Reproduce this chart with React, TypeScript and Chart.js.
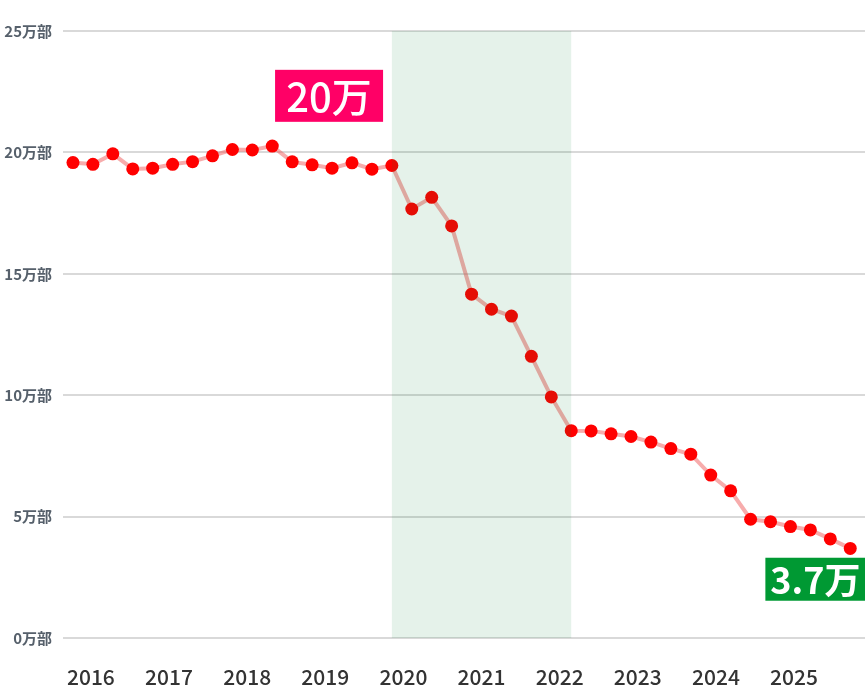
import { Chart, registerables } from "chart.js";
import { useEffect, useRef } from "react";

Chart.register(...registerables);

// 四半期ごとの発行部数（万部） 2016Q1〜2025Q4
const years = ["2016", "2017", "2018", "2019", "2020", "2021", "2022", "2023", "2024", "2025"];
const quarters = years.flatMap(y => ["Q1", "Q2", "Q3", "Q4"].map(q => `${y}${q}`));
const circulation = [
    19.58, 19.51, 19.94, 19.32, 19.35, 19.51, 19.62, 19.86,
    20.12, 20.10, 20.26, 19.61, 19.49, 19.35, 19.57, 19.31,
    19.46, 17.67, 18.15, 16.97, 14.16, 13.54, 13.26, 11.60,
    9.93, 8.54, 8.53, 8.41, 8.30, 8.07, 7.80, 7.57,
    6.71, 6.06, 4.89, 4.79, 4.59, 4.45, 4.08, 3.69,
];
const yTicks = [0, 5, 10, 15, 20, 25];
// コロナ期間の網掛け（四半期インデックス）
const shadeFrom = 16;
const shadeTo = 25;
const calloutTexts = ["20万", "3.7万"];

const FONT = "'Noto Sans CJK JP', 'Noto Sans', sans-serif";

const overlayPlugin = {
    id: "overlay",
    afterDatasetsDraw(chart: any) {
        const { ctx, chartArea, scales } = chart;
        const x = scales.x;
        const y = scales.y;
        ctx.save();
        // 網掛け（データの上に半透明で重ねる）
        const x0 = x.getPixelForValue(shadeFrom);
        const x1 = x.getPixelForValue(shadeTo);
        ctx.fillStyle = "rgba(0, 130, 50, 0.1)";
        ctx.fillRect(x0, chartArea.top, x1 - x0, chartArea.bottom - chartArea.top);

        const boxes = [
            { text: calloutTexts[0], at: [12.85, 22.33], w: 108, h: 52, bg: "#ff0066", font: `500 40px ${FONT}` },
            { text: calloutTexts[1], at: [37.25, 2.42], w: 100, h: 43, bg: "#009933", font: `bold 36px ${FONT}` },
        ];
        boxes.forEach(b => {
            const cx = x.getPixelForValue(b.at[0]);
            const cy = y.getPixelForValue(b.at[1]);
            ctx.fillStyle = b.bg;
            ctx.fillRect(cx - b.w / 2, cy - b.h / 2, b.w, b.h);
            ctx.fillStyle = "#ffffff";
            ctx.font = b.font;
            ctx.textAlign = "center";
            ctx.textBaseline = "middle";
            ctx.fillText(b.text, cx, cy + 1);
        });
        ctx.restore();
    },
};

const CirculationChart = () => {
    const chartRef = useRef<HTMLCanvasElement>(null);
    const chartInstance = useRef<Chart | null>(null);

    useEffect(() => {
        if (!chartRef.current) return;
        const data = {
            labels: quarters,
            datasets: [
                {
                    label: "発行部数",
                    data: circulation.map((v, i) => ({ x: i, y: v })),
                    borderColor: "rgba(240, 90, 90, 0.5)",
                    borderWidth: 4,
                    pointRadius: 6.5,
                    pointHoverRadius: 6.5,
                    pointBorderWidth: 0,
                    pointBackgroundColor: "#ff0000",
                    tension: 0,
                },
            ],
        };
        const config = {
            type: "line",
            data: data,
            options: {
                animation: false,
                responsive: false,
                layout: { autoPadding: false, padding: { top: 31, left: 0, right: 0, bottom: 0 } },
                plugins: {
                    legend: { display: false },
                    tooltip: { enabled: false },
                },
                scales: {
                    x: {
                        type: "linear",
                        min: -0.5,
                        max: 39.74,
                        border: { display: false },
                        grid: { display: false, drawTicks: false },
                        afterBuildTicks: (scale: any) => {
                            scale.ticks = years.map((_, i) => ({ value: 0.9 + i * 3.92 }));
                        },
                        afterFit: (scale: any) => {
                            scale.height = 50;
                            scale.paddingLeft = 0;
                            scale.paddingRight = 0;
                        },
                        ticks: {
                            autoSkip: false,
                            maxRotation: 0,
                            padding: 26,
                            color: "#333333",
                            font: { family: FONT, size: 21, weight: "500" },
                            callback: (_v: any, i: number) => years[i],
                        },
                    },
                    y: {
                        min: 0,
                        max: 25,
                        border: { display: false },
                        grid: { color: "#d9d9d9", lineWidth: 2, drawTicks: false },
                        afterBuildTicks: (scale: any) => {
                            scale.ticks = yTicks.map(v => ({ value: v }));
                        },
                        afterFit: (scale: any) => {
                            scale.width = 63;
                        },
                        ticks: {
                            padding: 11,
                            color: "#56606b",
                            font: { family: FONT, size: 15, weight: "bold" },
                            callback: (v: any) => `${v}万部`,
                        },
                    },
                },
            },
            plugins: [overlayPlugin],
        };

        if (chartInstance.current) {
            chartInstance.current.destroy();
        }
        const ctx = chartRef.current.getContext("2d");
        if (ctx) {
            chartInstance.current = new Chart(ctx, config as any);
        }
        return () => {
            if (chartInstance.current) {
                chartInstance.current.destroy();
                chartInstance.current = null;
            }
        };
    }, []);

    return <canvas ref={chartRef} width={865} height={688} style={{ display: "block" }} />;
};

export default function App() {
    return (
        <div style={{ position: "absolute", left: 0, top: 0, width: 865, height: 688, background: "#ffffff" }}>
            <CirculationChart />
        </div>
    );
}
